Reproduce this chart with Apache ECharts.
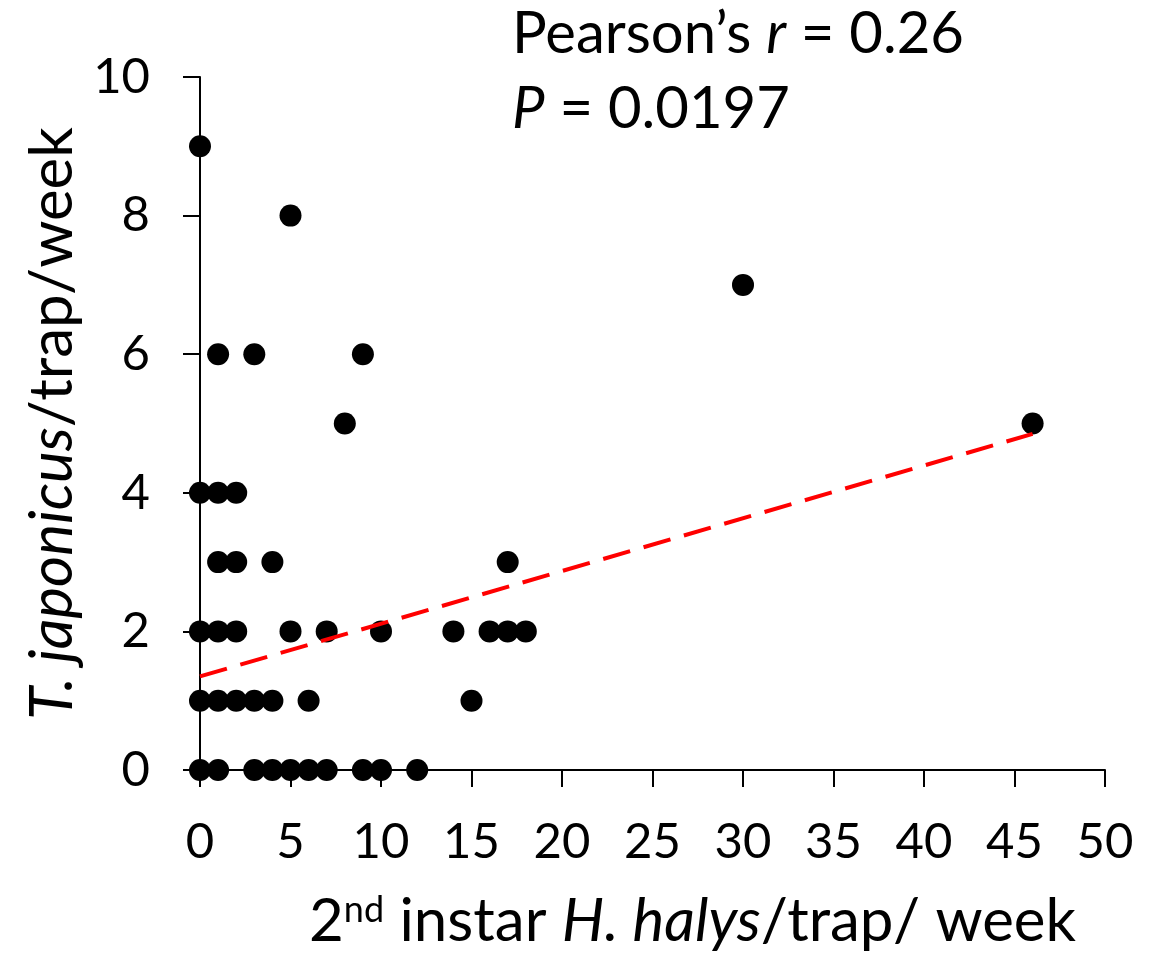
<!DOCTYPE html>
<html><head><meta charset="utf-8">
<script src="https://cdn.jsdelivr.net/npm/echarts@6/dist/echarts.min.js"></script>
<style>html,body{margin:0;padding:0;background:#fff}#c{width:1166px;height:957px}</style>
</head><body><div id="c"></div>
<script>
// Data (x = 2nd instar H. halys/trap/week, y = T. japonicus/trap/week)
const xValues = [0, 5, 30, 1, 3, 9, 8, 46, 0, 1, 2, 1, 2, 4, 17,
  0, 1, 2, 5, 7, 10, 14, 16, 17, 18,
  0, 1, 2, 3, 4, 6, 15,
  0, 1, 3, 4, 5, 6, 7, 9, 10, 12];
const yValues = [9, 8, 7, 6, 6, 6, 5, 5, 4, 4, 4, 3, 3, 3, 3,
  2, 2, 2, 2, 2, 2, 2, 2, 2, 2,
  1, 1, 1, 1, 1, 1, 1,
  0, 0, 0, 0, 0, 0, 0, 0, 0, 0];
const trendX = [0, 46];
const trendY = [1.35, 4.85];
const xTicks = [0, 5, 10, 15, 20, 25, 30, 35, 40, 45, 50];
const yTicks = [0, 2, 4, 6, 8, 10];

const FONT = 'Lato, "Open Sans", sans-serif';
const chart = echarts.init(document.getElementById('c'), null, {renderer: 'canvas'});
chart.setOption({
  animation: false,
  backgroundColor: '#fff',
  grid: {left: 200, right: 61, top: 77, bottom: 185, containLabel: false},
  xAxis: {
    type: 'value', min: xTicks[0], max: xTicks[xTicks.length - 1], interval: 5,
    axisLine: {show: true, lineStyle: {color: '#000', width: 2}},
    axisTick: {show: true, inside: false, length: 17, lineStyle: {color: '#000', width: 2}},
    splitLine: {show: false},
    axisLabel: {color: '#000', fontSize: 49, fontFamily: FONT, margin: 48},
    name: '{n|2}{sup|nd}{n| instar }{i|H. halys}{n|/trap/ week}',
    nameLocation: 'middle', nameGap: 122,
    nameTextStyle: {
      padding: [0, 0, 0, 80],
      rich: {
        n: {fontSize: 60, fontFamily: FONT, color: '#000'},
        i: {fontSize: 60, fontFamily: FONT, fontStyle: 'italic', color: '#000'},
        sup: {fontSize: 36, fontFamily: FONT, color: '#000', verticalAlign: 'top', padding: [0, 0, 24, 0]}
      }
    }
  },
  yAxis: {
    type: 'value', min: yTicks[0], max: yTicks[yTicks.length - 1], interval: 2,
    axisLine: {show: true, lineStyle: {color: '#000', width: 2}},
    axisTick: {show: true, inside: false, length: 17, lineStyle: {color: '#000', width: 2}},
    splitLine: {show: false},
    axisLabel: {color: '#000', fontSize: 49, fontFamily: FONT, margin: 50},
    name: '{i|T. japonicus}{n|/trap/week}',
    nameLocation: 'middle', nameGap: 116, nameRotate: 90,
    nameTextStyle: {
      rich: {
        n: {fontSize: 60, fontFamily: FONT, color: '#000'},
        i: {fontSize: 60, fontFamily: FONT, fontStyle: 'italic', color: '#000'}
      }
    }
  },
  series: [
    {
      type: 'scatter',
      data: xValues.map((x, i) => [x, yValues[i]]),
      symbol: 'circle', symbolSize: 22,
      itemStyle: {color: '#000', opacity: 1},
      emphasis: {disabled: true},
      z: 3
    },
    {
      type: 'line',
      data: trendX.map((x, i) => [x, trendY[i]]),
      symbol: 'none',
      lineStyle: {color: '#ff0000', width: 4, type: [28, 14]},
      z: 4
    }
  ],
  graphic: [
    {
      type: 'text', left: 512, top: 5,
      style: {
        text: '{n|Pearson\u2019s }{i|r}{n| = 0.26}\n{i|P}{n| = 0.0197}',
        rich: {
          n: {fontSize: 58, fontFamily: FONT, fill: '#000', lineHeight: 75},
          i: {fontSize: 58, fontFamily: FONT, fontStyle: 'italic', fill: '#000', lineHeight: 75}
        }
      }
    }
  ]
});
</script></body></html>
